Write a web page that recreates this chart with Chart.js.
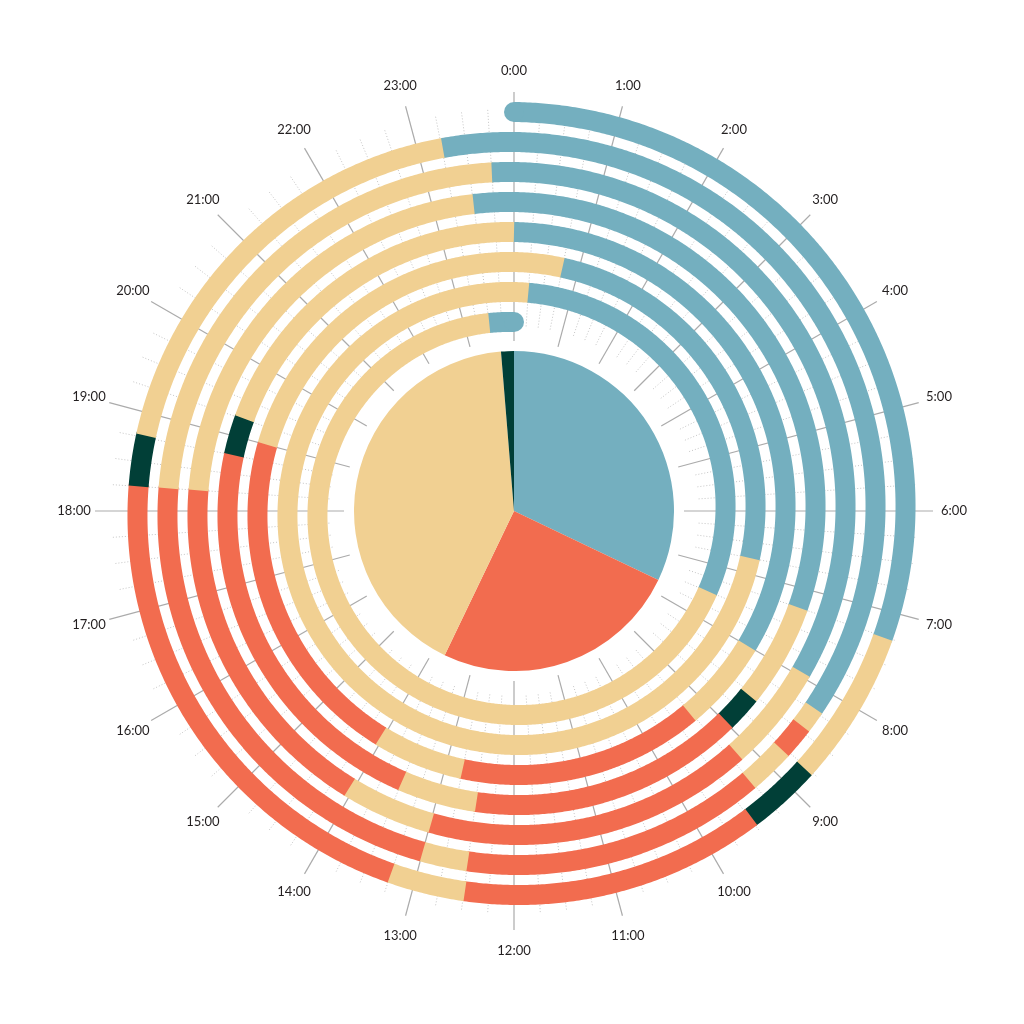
<!DOCTYPE html>
<html>
<head>
<meta charset="utf-8">
<script src="https://cdn.jsdelivr.net/npm/chart.js@4.4.1/dist/chart.umd.min.js"></script>
<style>
  html, body { margin: 0; padding: 0; background: #ffffff; overflow: hidden; }
  #wrap { position: relative; width: 1024px; height: 1024px; }
  #spiralBox { position: absolute; left: 0; top: 0; width: 1024px; height: 1024px; }
  #pieBox { position: absolute; left: 354px; top: 351px; width: 320px; height: 320px; }
  canvas { display: block; }
</style>
</head>
<body>
<div id="wrap">
  <div id="spiralBox"><canvas id="spiral"></canvas></div>
  <div id="pieBox"><canvas id="pie"></canvas></div>
</div>
<script>
// ---------------- DATA ----------------
const ACTIVITIES = ['Sleep', 'Work', 'Leisure', 'Meals'];
const ACTIVITY_COLORS = ['#74afbf', '#f26c4f', '#f1d092', '#013f37'];

const HOUR_LABELS = ['0:00', '1:00', '2:00', '3:00', '4:00', '5:00', '6:00', '7:00',
  '8:00', '9:00', '10:00', '11:00', '12:00', '13:00', '14:00', '15:00',
  '16:00', '17:00', '18:00', '19:00', '20:00', '21:00', '22:00', '23:00'];

// Boundaries between consecutive activities, in hours since the start of the week (7 days = 168 h)
const SEG_BOUNDS = [
  0, 7.26, 8.77, 9.48, 12.49, 13.25, 18.25, 18.77, 23.26,          // day 1
  32.22, 32.45, 32.78, 33.26, 36.5, 37.0, 42.25, 47.75,             // day 2
  55.95, 57.16, 60.99, 62.05, 66.25, 71.5,                          // day 3
  79.25, 80.54, 80.98, 84.49, 85.5, 90.75, 91.26, 96.0,             // day 4
  104.0, 105.27, 108.75, 110.04, 115.0, 120.75,                     // day 5
  126.75, 144.25,                                                   // day 6
  151.5, 167.5, 168                                                 // day 7
];
// Activity of each segment (index into ACTIVITIES): segment i runs from SEG_BOUNDS[i] to SEG_BOUNDS[i+1]
const SEG_ACTIVITY = [
  0, 2, 3, 1, 2, 1, 3, 2,
  0, 2, 1, 2, 1, 2, 1, 2,
  0, 2, 1, 2, 1, 2,
  0, 2, 3, 1, 2, 1, 3, 2,
  0, 2, 1, 2, 1, 2,
  0, 2,
  0, 2, 0
];

// ---------------- LAYOUT ----------------
const R_START = 399;      // spiral radius at the very start
const RING_PITCH = 30;    // radius lost per 24 h turn
const RING_W = 20;        // stroke width of the spiral
const STEP = 0.05;        // path sampling step (hours) for drawing the curve
const OVERLAP = 0.02;
const HOUR_LINE_R = [170, 419];
const QUARTER_LINE_R = [185, 402];
const LABEL_R = 440;

function polar(r, a) { return { x: r * Math.sin(a), y: r * Math.cos(a) }; }
function spiralPt(T) {
  const r = R_START - RING_PITCH * T / 24;
  return polar(r, T / 24 * 2 * Math.PI);
}

const datasets = [];

// radial grid: hour lines (solid) and quarter-hour lines (dotted)
for (let q = 0; q < 96; q++) {
  const a = q / 96 * 2 * Math.PI;
  const isHour = q % 4 === 0;
  const rr = isHour ? HOUR_LINE_R : QUARTER_LINE_R;
  datasets.push({
    data: [polar(rr[0], a), polar(rr[1], a)],
    showLine: true,
    borderColor: isHour ? '#ababab' : '#c4c4c4',
    borderWidth: isHour ? 1.2 : 1,
    borderDash: isHour ? [] : [1, 2],
    pointRadius: 0,
    order: 5000
  });
}

// spiral segments
const END_T = SEG_BOUNDS[SEG_BOUNDS.length - 1];
for (let i = 0; i < SEG_ACTIVITY.length; i++) {
  const t0 = SEG_BOUNDS[i];
  const t1 = Math.min(SEG_BOUNDS[i + 1] + OVERLAP, END_T);
  const n = Math.max(2, Math.ceil((t1 - t0) / STEP) + 1);
  const pts = [];
  for (let j = 0; j < n; j++) pts.push(spiralPt(t0 + (t1 - t0) * j / (n - 1)));
  datasets.push({
    label: ACTIVITIES[SEG_ACTIVITY[i]],
    data: pts,
    showLine: true,
    borderColor: ACTIVITY_COLORS[SEG_ACTIVITY[i]],
    borderWidth: RING_W,
    borderCapStyle: 'butt',
    borderJoinStyle: 'round',
    pointRadius: 0,
    tension: 0.0001,
    order: 1000 - i
  });
}

// rounded ends of the spiral
datasets.push({
  data: [spiralPt(0), spiralPt(END_T)],
  showLine: false,
  pointRadius: RING_W / 2,
  pointBorderWidth: 0,
  pointBackgroundColor: [ACTIVITY_COLORS[SEG_ACTIVITY[0]], ACTIVITY_COLORS[SEG_ACTIVITY[SEG_ACTIVITY.length - 1]]],
  order: 0
});

const hourLabelsPlugin = {
  id: 'hourLabels',
  afterDatasetsDraw(chart) {
    const { ctx, scales: { x, y } } = chart;
    ctx.save();
    ctx.font = '13px Lato, "DejaVu Sans", sans-serif';
    ctx.fillStyle = '#231f20';
    ctx.textAlign = 'center';
    ctx.textBaseline = 'middle';
    HOUR_LABELS.forEach((lab, i) => {
      const p = polar(LABEL_R, i / HOUR_LABELS.length * 2 * Math.PI);
      ctx.fillText(lab, x.getPixelForValue(p.x), y.getPixelForValue(p.y));
    });
    ctx.restore();
  }
};

new Chart(document.getElementById('spiral'), {
  type: 'scatter',
  data: { datasets },
  options: {
    responsive: true,
    maintainAspectRatio: false,
    animation: false,
    events: [],
    layout: { padding: 0, autoPadding: false },
    plugins: { legend: { display: false }, tooltip: { enabled: false } },
    scales: {
      x: { type: 'linear', min: -514, max: 510, bounds: 'data', display: false },
      y: { type: 'linear', min: -513, max: 511, bounds: 'data', display: false }
    }
  },
  plugins: [hourLabelsPlugin]
});

// centre pie: total hours per activity over the week
const ACTIVITY_TOTALS = ACTIVITIES.map((_, k) =>
  SEG_ACTIVITY.reduce((s, act, i) => s + (act === k ? SEG_BOUNDS[i + 1] - SEG_BOUNDS[i] : 0), 0));

new Chart(document.getElementById('pie'), {
  type: 'pie',
  data: {
    labels: ACTIVITIES,
    datasets: [{ data: ACTIVITY_TOTALS, backgroundColor: ACTIVITY_COLORS, borderWidth: 0 }]
  },
  options: {
    responsive: true,
    maintainAspectRatio: false,
    animation: false,
    events: [],
    layout: { padding: 0 },
    plugins: { legend: { display: false }, tooltip: { enabled: false } }
  }
});
</script>
</body>
</html>
